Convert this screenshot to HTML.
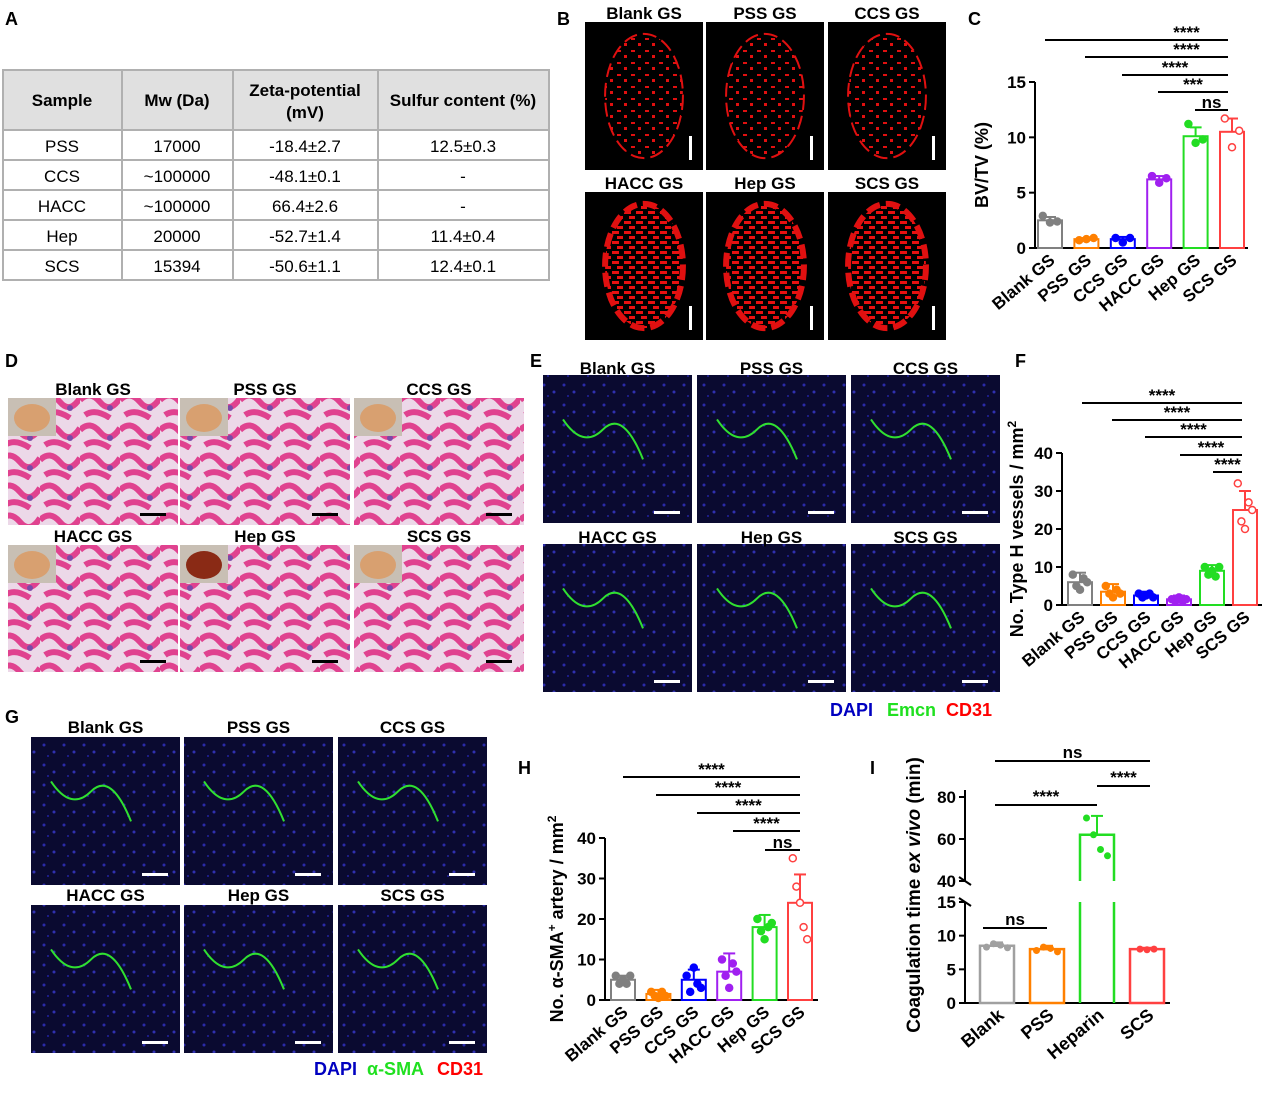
<!DOCTYPE html>
<html><head><meta charset="utf-8"><style>
body{margin:0;background:#fff;font-family:"Liberation Sans",Arial,sans-serif}
svg text{font-family:"Liberation Sans",Arial,sans-serif}
</style></head><body>
<svg id="fig" width="1270" height="1093" viewBox="0 0 1270 1093" xmlns="http://www.w3.org/2000/svg">
<defs>
<pattern id="hist" width="40" height="30" patternUnits="userSpaceOnUse"><rect width="40" height="30" fill="#ecd8e8"/><path d="M0 10 Q10 0 20 12 T40 8 M5 25 Q15 18 30 28" stroke="#e0428f" stroke-width="6" fill="none"/><circle cx="30" cy="18" r="3" fill="#7a4aa8"/></pattern>
<pattern id="fluo" width="20" height="20" patternUnits="userSpaceOnUse"><rect width="20" height="20" fill="#0a0a30"/><circle cx="4" cy="5" r="1.5" fill="#2a2aa8"/><circle cx="14" cy="12" r="1.5" fill="#3030b0"/><circle cx="8" cy="16" r="1" fill="#2020a0"/></pattern>
<pattern id="spk" width="14" height="12" patternUnits="userSpaceOnUse"><rect width="14" height="12" fill="#000"/><rect x="1" y="2" width="4" height="2" fill="#e01010"/><rect x="8" y="7" width="3" height="3" fill="#e01010"/></pattern>
<pattern id="spk2" width="12" height="10" patternUnits="userSpaceOnUse"><rect width="12" height="10" fill="#000"/><rect x="0" y="1" width="7" height="3" fill="#e81010"/><rect x="5" y="6" width="6" height="3" fill="#e81010"/></pattern>
</defs>
<g>
<text x="5" y="25" font-size="18" font-weight="bold">A</text>
<rect x="3" y="70" width="546" height="60" fill="#e0e0e0"/>
<g stroke="#b0b0b0" stroke-width="2" fill="none"><rect x="3" y="70" width="546" height="210"/>
<line x1="3" y1="130" x2="549" y2="130"/><line x1="3" y1="160" x2="549" y2="160"/><line x1="3" y1="190" x2="549" y2="190"/><line x1="3" y1="220" x2="549" y2="220"/><line x1="3" y1="250" x2="549" y2="250"/>
<line x1="122" y1="70" x2="122" y2="280"/><line x1="233" y1="70" x2="233" y2="280"/><line x1="378" y1="70" x2="378" y2="280"/></g>
<g font-size="17" text-anchor="middle" font-weight="bold"><text x="62" y="106">Sample</text><text x="177" y="106">Mw (Da)</text><text x="305" y="96">Zeta-potential</text><text x="305" y="118">(mV)</text><text x="463" y="106">Sulfur content (%)</text></g>
<g font-size="17" text-anchor="middle" id="tbody"></g>
</g>
<g id="pb"><text x="557" y="25" font-size="18" font-weight="bold">B</text></g>
<g id="pd"><text x="5" y="367" font-size="18" font-weight="bold">D</text></g>
<g id="pe"><text x="530" y="367" font-size="18" font-weight="bold">E</text>
<text x="830" y="716" font-size="18" font-weight="bold" fill="#0000c0">DAPI</text><text x="887" y="716" font-size="18" font-weight="bold" fill="#20e020">Emcn</text><text x="946" y="716" font-size="18" font-weight="bold" fill="#ff0000">CD31</text></g>
<g id="pg"><text x="5" y="723" font-size="18" font-weight="bold">G</text>
<text x="314" y="1075" font-size="18" font-weight="bold" fill="#0000c0">DAPI</text><text x="367" y="1075" font-size="18" font-weight="bold" fill="#20e020">α-SMA</text><text x="437" y="1075" font-size="18" font-weight="bold" fill="#ff0000">CD31</text></g>
<g id="charts"></g>
</svg>
<script>
const NS="http://www.w3.org/2000/svg";
function el(p,t,a,txt){const e=document.createElementNS(NS,t);for(const k in a)e.setAttribute(k,a[k]);if(txt!==undefined)e.textContent=txt;p.appendChild(e);return e;}
const tRows=[["PSS","17000","-18.4±2.7","12.5±0.3"],["CCS","~100000","-48.1±0.1","-"],["HACC","~100000","66.4±2.6","-"],["Hep","20000","-52.7±1.4","11.4±0.4"],["SCS","15394","-50.6±1.1","12.4±0.1"]];
const tb=document.getElementById('tbody');const cx=[62,177,305,463];
tRows.forEach((r,i)=>r.forEach((c,j)=>{const t=el(tb,'text',{x:cx[j],y:152+i*30},c);

}));
function imgs(gid,xs,ys,w,h,titles,fill,ty,scale,sb){const g=document.getElementById(gid);let k=0;
ys.forEach(y=>xs.forEach(x=>{const r=el(g,'rect',{x:x,y:y,width:w,height:h,fill:fill});


if(fill==='#000'){el(g,'ellipse',{cx:x+w/2,cy:y+h/2,rx:w*0.33,ry:h*0.42,fill:k>=3?'url(#spk2)':'url(#spk)',stroke:'#e01010','stroke-width':k>=3?6:2,'stroke-dasharray':'14 6'});}
if(gid==='pe'||gid==='pg'){el(g,'path',{d:`M${x+20} ${y+h*0.3} q20 30 40 10 t40 30`,stroke:'#30e030','stroke-width':2,fill:'none'});}
if(gid==='pd'){el(g,'rect',{x:x,y:y,width:48,height:38,fill:'#c8bfb4'});el(g,'ellipse',{cx:x+24,cy:y+20,rx:18,ry:14,fill:k==4?'#8a2a15':'#d8a070'});}
if(sb==='v')el(g,'rect',{x:x+w-14,y:y+h-34,width:3,height:24,fill:'#fff'});else el(g,'rect',{x:x+w-38,y:y+h-12,width:26,height:3,fill:sb});
const t=el(g,'text',{x:x+w/2,y:y-ty,'text-anchor':'middle','font-size':17,'font-weight':'bold'},titles[k]);

k++;}));}
const T=["Blank GS","PSS GS","CCS GS","HACC GS","Hep GS","SCS GS"];
imgs('pb',[585,706,828],[22,192],118,148,T,'#000',3,1,'v');
imgs('pd',[8,180,354],[398,545],170,127,T,'url(#hist)',3,1,'#000');
imgs('pe',[543,697,851],[375,544],149,148,T,'url(#fluo)',1,1,'#fff');
imgs('pg',[31,184,338],[737,905],149,148,T,'url(#fluo)',4,1,'#fff');

const cats=["Blank GS","PSS GS","CCS GS","HACC GS","Hep GS","SCS GS"];
const cols=["#808080","#ff8000","#0000ff","#a020f0","#22dd22","#ff4040"];
const cVals=[2.5,0.8,0.8,6.2,10.1,10.5];
const cErr=[0.3,0.1,0.2,0.3,0.8,1.2];
const cPts=[[2.9,2.3,2.4],[0.7,0.8,0.9],[0.9,0.5,0.9],[6.5,5.9,6.3],[11.2,9.5,9.8],[11.7,9.1,10.6]];
const cTicks=[0,5,10,15];
const fVals=[6,3.5,2.5,1.5,9,25];
const fErr=[2.5,2,1,1,1.5,5];
const fPts=[[8,5,4,7,6],[5,3,2,4,3],[3,2,2.5,3,2],[1.5,1,2,1,1.5],[10,8,9,7.5,10],[32,22,20,27,25]];
const fTicks=[0,10,20,30,40];
const hVals=[5,1.5,5,7,18,24];
const hErr=[1,1,2.5,4.5,3,7];
const hPts=[[6,4,5,4,6],[2,1,0.5,2,1],[6,2,8,4,3],[10,6,3,9,7],[20,17,15,18,19],[35,28,24,18,15]];
const hTicks=[0,10,20,30,40];
const iCats=["Blank","PSS","Heparin","SCS"];
const iCols=["#a0a0a0","#ff8000","#22dd22","#ff4040"];
const iVals=[8.5,8,62,8];
const iErr=[0.5,0.5,9,0.2];
const iPts=[[8.3,8.8,8.6,8.2],[7.8,8.3,8.1,7.6],[70,62,55,52],[8,7.9,8]];

const C=document.getElementById('charts');
function chart(o){const g=el(C,'g',{});


const y=v=>o.y0-(v/o.max)*(o.y0-o.yTop);const xL=o.xAxis;
el(g,'line',{x1:xL,y1:o.y0,x2:xL,y2:y(o.max),stroke:'#000','stroke-width':2});
el(g,'line',{x1:xL,y1:o.y0,x2:o.xEnd,y2:o.y0,stroke:'#000','stroke-width':2});
o.ticks.forEach(t=>{el(g,'line',{x1:xL-6,y1:y(t),x2:xL,y2:y(t),stroke:'#000','stroke-width':2});
const tx=el(g,'text',{x:xL-9,y:y(t)+6,'text-anchor':'end','font-size':17,'font-weight':'bold'},t);

});
o.vals.forEach((v,i)=>{const cx=o.x0+i*o.dx;const bw=o.bw;
const b=el(g,'rect',{x:cx-bw/2,y:y(v),width:bw,height:o.y0-y(v),fill:'none',stroke:o.cols[i],'stroke-width':2});


el(g,'line',{x1:cx,y1:y(v),x2:cx,y2:y(v+o.err[i]),stroke:o.cols[i],'stroke-width':2});
el(g,'line',{x1:cx-6,y1:y(v+o.err[i]),x2:cx+6,y2:y(v+o.err[i]),stroke:o.cols[i],'stroke-width':2});
o.pts[i].forEach((p,j)=>{const n=o.pts[i].length;const px=cx+(j-(n-1)/2)*(bw*0.6/Math.max(n-1,1));
const d=el(g,'circle',{cx:px,cy:y(p),r:3.5,fill:i==5?'#fff':o.cols[i],stroke:o.cols[i],'stroke-width':1.5});

});
const lx=cx+6,ly=o.y0+14;const lt=el(g,'text',{x:lx,y:ly,'text-anchor':'end','font-size':17,'font-weight':'bold',transform:`rotate(-40 ${lx} ${ly})`},o.cats[i]);

});
const yl=el(g,'text',{x:o.ylx,y:(o.y0+o.yTop)/2,'text-anchor':'middle','font-size':18,'font-weight':'bold',transform:`rotate(-90 ${o.ylx} ${(o.y0+o.yTop)/2})`});
yl.innerHTML=o.ylab;
o.sig.forEach(s=>{el(g,'line',{x1:s[0],y1:s[2],x2:s[1],y2:s[2],stroke:'#000','stroke-width':2});
const st=el(g,'text',{x:(s[0]+s[1])/2+(s[4]||0),y:s[2]-2,'text-anchor':'middle','font-size':17,'font-weight':'bold'},s[3]);

});
el(g,'text',{x:o.lab[0],y:o.lab[1],'font-size':18,'font-weight':'bold'},o.lab[2]);
return g;}
chart({name:'chart-c',y0:248,yTop:82,max:15,xAxis:1035,xEnd:1248,x0:1050,dx:36.4,bw:24,vals:cVals,err:cErr,pts:cPts,ticks:cTicks,cats:cats,cols:cols,ylx:988,ylab:'BV/TV (%)',
sig:[[1045,1228,40,'****',50],[1085,1228,57,'****',30],[1122,1228,75,'****',0],[1158,1228,92,'***',0],[1195,1228,110,'ns',0]],lab:[968,25,'C']});
chart({name:'chart-f',y0:605,yTop:453,max:40,xAxis:1062,xEnd:1262,x0:1080,dx:33,bw:24,vals:fVals,err:fErr,pts:fPts,ticks:fTicks,cats:cats,cols:cols,ylx:1023,ylab:'No. Type H vessels / mm<tspan dy="-7" font-size="12">2</tspan>',
sig:[[1082,1242,403,'****',0],[1112,1242,420,'****',0],[1145,1242,437,'****',0],[1180,1242,455,'****',0],[1213,1242,472,'****',0]],lab:[1015,367,'F']});
chart({name:'chart-h',y0:1000,yTop:838,max:40,xAxis:605,xEnd:818,x0:623,dx:35.4,bw:24,vals:hVals,err:hErr,pts:hPts,ticks:hTicks,cats:cats,cols:cols,ylx:563,ylab:'No. α-SMA<tspan dy="-7" font-size="12">+</tspan><tspan dy="7"> artery / mm</tspan><tspan dy="-7" font-size="12">2</tspan>',
sig:[[623,800,777,'****',0],[656,800,795,'****',0],[697,800,813,'****',0],[733,800,831,'****',0],[765,800,850,'ns',0]],lab:[518,774,'H']});
(function(){const g=el(C,'g',{});


const yl=v=>1003-v*(101/15);const yu=v=>881-(v-40)*2.1;
const y=v=>v<=15?yl(v):yu(v);const xA=965;
el(g,'line',{x1:xA,y1:1003,x2:xA,y2:902,stroke:'#000','stroke-width':2});
el(g,'line',{x1:xA,y1:881,x2:xA,y2:790,stroke:'#000','stroke-width':2});
el(g,'line',{x1:xA-6,y1:898,x2:xA+6,y2:906,stroke:'#000','stroke-width':2});
el(g,'line',{x1:xA-6,y1:877,x2:xA+6,y2:885,stroke:'#000','stroke-width':2});
el(g,'line',{x1:xA,y1:1003,x2:1170,y2:1003,stroke:'#000','stroke-width':2});
const iTicks=[0,5,10,15,40,60,80];
iTicks.forEach(t=>{el(g,'line',{x1:xA-6,y1:y(t),x2:xA,y2:y(t),stroke:'#000','stroke-width':2});
const tx=el(g,'text',{x:xA-9,y:y(t)+6,'text-anchor':'end','font-size':17,'font-weight':'bold'},t);

});
iVals.forEach((v,i)=>{const cx=997+i*50;const top=y(v);
if(v>15){el(g,'path',{d:`M${cx-17} 1003 V902 M${cx+17} 1003 V902 M${cx-17} 881 V${top} H${cx+17} V881`,fill:'none',stroke:iCols[i],'stroke-width':2.5});}
else{const b=el(g,'rect',{x:cx-17,y:top,width:34,height:1003-top,fill:'none',stroke:iCols[i],'stroke-width':2.5});}
el(g,'line',{x1:cx,y1:top,x2:cx,y2:y(v+iErr[i]),stroke:iCols[i],'stroke-width':2});
el(g,'line',{x1:cx-6,y1:y(v+iErr[i]),x2:cx+6,y2:y(v+iErr[i]),stroke:iCols[i],'stroke-width':2});
iPts[i].forEach((p,j)=>{const n=iPts[i].length;const d=el(g,'circle',{cx:cx+(j-(n-1)/2)*7,cy:y(p),r:3.5,fill:iCols[i]});

});
const lx=cx+8,ly=1017;const lt=el(g,'text',{x:lx,y:ly,'text-anchor':'end','font-size':18,'font-weight':'bold',transform:`rotate(-40 ${lx} ${ly})`},iCats[i]);

});
const t=el(g,'text',{x:920,y:895,'text-anchor':'middle','font-size':19,'font-weight':'bold',transform:'rotate(-90 920 895)'});
t.innerHTML='Coagulation time <tspan font-style="italic">ex vivo</tspan> (min)';
[[995,1150,761,'ns'],[1097,1150,786,'****'],[995,1097,805,'****'],[983,1047,928,'ns']].forEach(s=>{el(g,'line',{x1:s[0],y1:s[2],x2:s[1],y2:s[2],stroke:'#000','stroke-width':2});
const st=el(g,'text',{x:(s[0]+s[1])/2,y:s[2]-3,'text-anchor':'middle','font-size':17,'font-weight':'bold'},s[3]);

});
el(g,'text',{x:870,y:774,'font-size':18,'font-weight':'bold'},'I');})();
</script>
</body></html>
